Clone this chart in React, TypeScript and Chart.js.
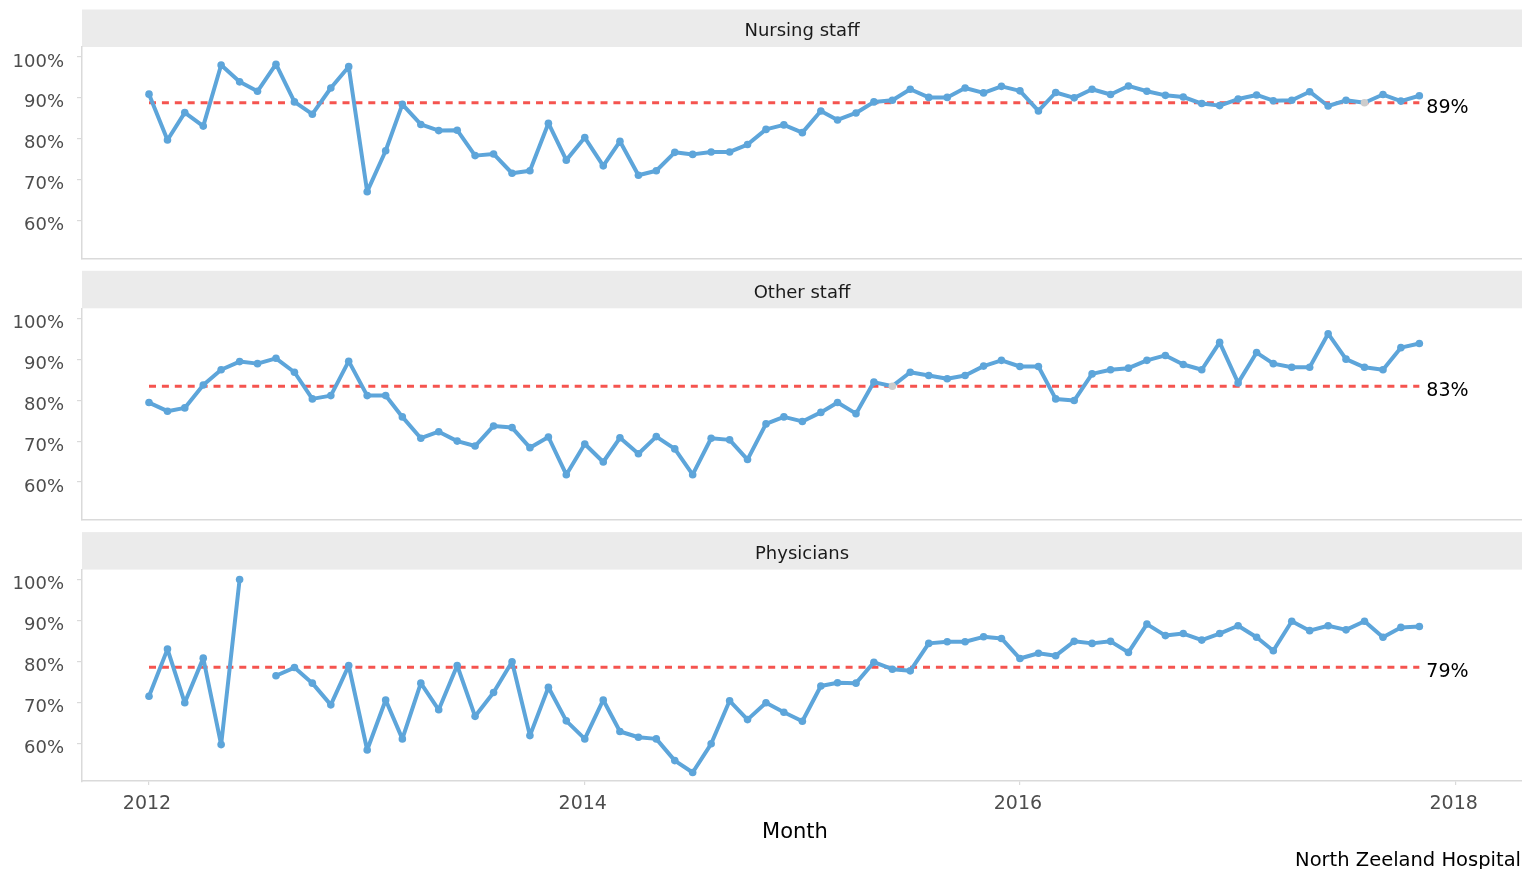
import React, { useEffect, useRef } from 'react';
import { Chart, registerables } from 'chart.js';

Chart.register(...registerables);

// ---------- data ----------
const startYear = 2012;
const monthCount = 71; // Jan 2012 .. Nov 2017

const panelTitles = ['Nursing staff', 'Other staff', 'Physicians'];

const nursingStaff = [
  90.9, 79.7, 86.4, 83.1, 98.0, 93.9, 91.6, 98.2, 89.0, 86.0, 92.4, 97.6,
  67.1, 77.1, 88.4, 83.5, 82.0, 82.1, 75.9, 76.3, 71.6, 72.2, 83.8, 74.8,
  80.3, 73.4, 79.4, 71.1, 72.2, 76.7, 76.2, 76.8, 76.8, 78.6, 82.3, 83.4,
  81.5, 86.8, 84.6, 86.3, 89.0, 89.4, 92.1, 90.1, 90.1, 92.4, 91.2, 92.8,
  91.7, 86.8, 91.3, 90.0, 92.1, 90.8, 92.9, 91.6, 90.6, 90.2, 88.6, 88.1,
  89.7, 90.7, 89.3, 89.4, 91.5, 88.0, 89.4, 88.8, 90.8, 89.2, 90.5,
];

const otherStaff = [
  79.4, 77.3, 78.1, 83.7, 87.4, 89.4, 88.9, 90.2, 86.8, 80.3, 81.1, 89.5,
  81.1, 81.1, 75.9, 70.7, 72.3, 70.0, 68.8, 73.7, 73.3, 68.4, 71.0, 61.8,
  69.3, 64.9, 70.8, 66.9, 71.1, 68.1, 61.8, 70.7, 70.3, 65.5, 74.2, 75.9,
  74.8, 77.0, 79.4, 76.7, 84.4, 83.4, 86.8, 86.0, 85.2, 86.0, 88.3, 89.7,
  88.2, 88.2, 80.3, 79.9, 86.4, 87.4, 87.8, 89.7, 90.9, 88.7, 87.4, 94.1,
  84.2, 91.6, 88.9, 88.0, 88.0, 96.2, 90.0, 88.0, 87.4, 92.8, 93.8,
];

const physicians = [
  71.5, 83.0, 69.9, 80.8, 59.7, 100.0, null, 76.5, 78.5, 74.7, 69.4, 79.0,
  58.4, 70.6, 61.1, 74.7, 68.2, 79.0, 66.6, 72.4, 79.9, 61.9, 73.7, 65.5,
  61.1, 70.6, 62.9, 61.5, 61.1, 55.8, 52.9, 59.9, 70.4, 65.8, 69.9, 67.6,
  65.4, 74.0, 74.8, 74.7, 79.8, 78.1, 77.7, 84.4, 84.8, 84.8, 86.0, 85.6,
  80.7, 82.0, 81.4, 84.9, 84.4, 84.9, 82.2, 89.1, 86.3, 86.8, 85.2, 86.8,
  88.7, 85.9, 82.6, 89.8, 87.5, 88.7, 87.7, 89.8, 85.9, 88.3, 88.5,
];

const panelSeries: (number | null)[][] = [nursingStaff, otherStaff, physicians];
const centreLines = [88.8, 83.4, 78.6];
const centrePointIndices = [[67], [41], []];

const yTickValues = [60, 70, 80, 90, 100];
const xTickYears = [2012, 2014, 2016, 2018];
const xAxisTitle = 'Month';
const captionText = 'North Zeeland Hospital';

// ---------- styling / layout ----------
const FONT = "'DejaVu Sans', 'Liberation Sans', Arial, sans-serif";
const BLUE = '#5DA5DA';
const RED = '#F5544F';
const GREY_POINT = '#CCCCCC';
const STRIP_BG = '#EBEBEB';
const AXIS_GREY = '#DADADA';
const TICK_TEXT = '#4D4D4D';

const Y_MIN = 50.8;
const Y_MAX = 102.4;
const X_MIN_DAYS = -112.4;
const X_MAX_DAYS = 2303.2;

const STRIP_H = 37.5;
const PLOT_H = 211.5;
const canvasTops = [0, 261, 522];
const canvasHeights = [261, 261, 347];
const padTops = [47, 47.3, 47.6];

const DAY_MS = 86400000;
const dayOf = (y: number, m: number) => (Date.UTC(y, m, 1) - Date.UTC(startYear, 0, 1)) / DAY_MS;
const monthDays: number[] = [];
for (let i = 0; i < monthCount; i++) monthDays.push(dayOf(startYear, i));
const xTickDays = xTickYears.map((y) => dayOf(y, 0));

const facetPlugin = {
  id: 'facet',
  beforeDraw(chart: any, _args: any, opts: any) {
    const { ctx, chartArea } = chart;
    ctx.save();
    ctx.fillStyle = STRIP_BG;
    ctx.fillRect(chartArea.left, chartArea.top - STRIP_H, chartArea.right - chartArea.left, STRIP_H);
    ctx.fillStyle = '#1A1A1A';
    ctx.font = `18px ${FONT}`;
    ctx.textAlign = 'center';
    ctx.textBaseline = 'middle';
    ctx.fillText(opts.title, (chartArea.left + chartArea.right) / 2, chartArea.top - STRIP_H / 2 + 3.5);
    ctx.restore();
  },
  afterDraw(chart: any, _args: any, opts: any) {
    const { ctx, chartArea } = chart;
    const x = chart.scales.x.getPixelForValue(opts.labelX) + 7;
    const y = chart.scales.y.getPixelForValue(opts.centre) + 5;
    ctx.save();
    ctx.fillStyle = '#000000';
    ctx.font = `19px ${FONT}`;
    ctx.textAlign = 'left';
    ctx.textBaseline = 'middle';
    ctx.fillText(Math.round(opts.centre) + '%', x, y);
    if (opts.axisTitle) {
      ctx.textAlign = 'center';
      ctx.font = `21px ${FONT}`;
      ctx.fillText(opts.axisTitle, (chartArea.left + chartArea.right) / 2 - 7, chartArea.bottom + 51.5);
    }
    if (opts.caption) {
      ctx.textAlign = 'right';
      ctx.font = `19.5px ${FONT}`;
      ctx.fillText(opts.caption, chart.width - 1, chartArea.bottom + 80);
    }
    ctx.restore();
  },
};

function buildConfig(k: number): any {
  const isBottom = k === panelSeries.length - 1;
  const values = panelSeries[k];
  const points = values.map((v, i) => ({ x: monthDays[i], y: v }));
  const centre = [
    { x: monthDays[0], y: centreLines[k] },
    { x: monthDays[monthDays.length - 1], y: centreLines[k] },
  ];
  const axisH = canvasHeights[k] - padTops[k] - PLOT_H;
  const grey = centrePointIndices[k];

  return {
    type: 'line',
    data: {
      datasets: [
        {
          data: points,
          borderColor: BLUE,
          borderWidth: 4,
          borderJoinStyle: 'round',
          borderCapStyle: 'round',
          pointRadius: 3.8,
          pointBorderWidth: 0,
          pointBackgroundColor: (c: any) => (grey.includes(c.dataIndex) ? GREY_POINT : BLUE),
          spanGaps: false,
          tension: 0,
        },
        {
          data: centre,
          borderColor: RED,
          borderWidth: 3,
          borderDash: [7, 5.9],
          pointRadius: 0,
          tension: 0,
        },
      ],
    },
    options: {
      responsive: false,
      maintainAspectRatio: false,
      animation: false,
      events: [],
      layout: { padding: { top: padTops[k], left: 0, right: 0, bottom: 0 }, autoPadding: false },
      plugins: {
        legend: { display: false },
        tooltip: { enabled: false },
        title: { display: false },
        facet: {
          title: panelTitles[k],
          centre: centreLines[k],
          labelX: monthDays[monthDays.length - 1],
          caption: isBottom ? captionText : '',
          axisTitle: isBottom ? xAxisTitle : '',
        },
      },
      scales: {
        x: {
          type: 'linear',
          min: X_MIN_DAYS,
          max: X_MAX_DAYS,
          afterBuildTicks: (s: any) => {
            s.ticks = xTickDays.map((v) => ({ value: v }));
          },
          afterFit: (s: any) => {
            s.height = axisH;
            s.paddingLeft = 0;
            s.paddingRight = 0;
          },
          ticks: {
            display: isBottom,
            autoSkip: false,
            maxRotation: 0,
            color: TICK_TEXT,
            font: { size: 19, family: FONT },
            padding: 7.5,
            labelOffset: -2,
            callback: (_v: any, i: number) => String(xTickYears[i]),
          },
          grid: {
            display: isBottom,
            drawOnChartArea: false,
            drawTicks: true,
            tickLength: 4,
            color: AXIS_GREY,
            lineWidth: 1.2,
          },
          border: { display: true, color: AXIS_GREY, width: 1.5 },
        },
        y: {
          type: 'linear',
          min: Y_MIN,
          max: Y_MAX,
          afterBuildTicks: (s: any) => {
            s.ticks = yTickValues.map((v) => ({ value: v }));
          },
          afterFit: (s: any) => {
            s.width = 82;
            s.paddingTop = 0;
            s.paddingBottom = 0;
          },
          ticks: {
            color: TICK_TEXT,
            font: { size: 18, family: FONT },
            padding: 13,
            labelOffset: 5,
            callback: (v: any) => v + '%',
          },
          grid: {
            display: true,
            drawOnChartArea: false,
            drawTicks: true,
            tickLength: 5,
            color: AXIS_GREY,
            lineWidth: 1.2,
          },
          border: { display: true, color: AXIS_GREY, width: 1.5 },
        },
      },
    },
    plugins: [facetPlugin],
  };
}

export default function App() {
  const ref0 = useRef<HTMLCanvasElement>(null);
  const ref1 = useRef<HTMLCanvasElement>(null);
  const ref2 = useRef<HTMLCanvasElement>(null);
  const refs = [ref0, ref1, ref2];

  useEffect(() => {
    Chart.defaults.font.family = FONT;
    const charts = refs.map((r, k) => new Chart(r.current as HTMLCanvasElement, buildConfig(k)));
    return () => charts.forEach((c) => c.destroy());
  }, []);

  return (
    <div
      style={{
        position: 'absolute',
        left: 0,
        top: 0,
        width: 1522,
        height: 869,
        background: '#ffffff',
        overflow: 'hidden',
      }}
    >
      {panelTitles.map((t, k) => (
        <canvas
          key={t}
          ref={refs[k]}
          width={1522}
          height={canvasHeights[k]}
          style={{ position: 'absolute', left: 0, top: canvasTops[k], width: 1522, height: canvasHeights[k] }}
        />
      ))}
    </div>
  );
}
